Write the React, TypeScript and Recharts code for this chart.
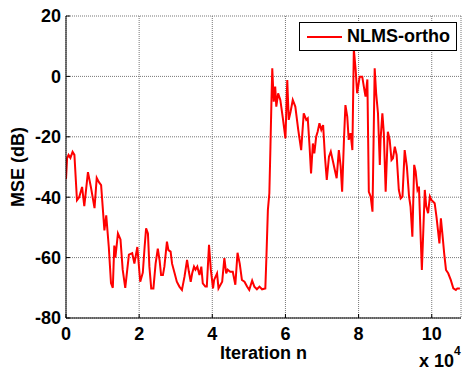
import { LineChart, Line, XAxis, YAxis, CartesianGrid, Legend } from 'recharts';

const FONT = '"Liberation Sans", Arial, Helvetica, sans-serif';

// iteration index in units of 1e4
const iterations = [
  0, 0.03, 0.07, 0.12, 0.18, 0.23, 0.30, 0.36, 0.44, 0.50, 0.60, 0.68, 0.78, 0.84, 0.90, 0.96,
  1.05, 1.10, 1.17, 1.23, 1.28, 1.32, 1.35, 1.42, 1.49, 1.55, 1.62, 1.72, 1.81, 1.87, 1.95,
  2.03, 2.10, 2.15, 2.19, 2.24, 2.28, 2.33, 2.39, 2.45, 2.51, 2.56, 2.60, 2.65, 2.69, 2.76, 2.80,
  2.86, 2.90, 2.97, 3.03, 3.10, 3.17, 3.24, 3.31, 3.36, 3.41, 3.45, 3.50, 3.54, 3.59, 3.65, 3.70,
  3.74, 3.81, 3.85, 3.91, 3.96, 4.02, 4.05, 4.13, 4.17, 4.27, 4.33, 4.38, 4.42, 4.49, 4.56, 4.63,
  4.69, 4.75, 4.81, 4.88, 4.95, 5.01, 5.09, 5.15, 5.22, 5.29, 5.36, 5.45, 5.48, 5.52, 5.56, 5.59,
  5.62, 5.64, 5.68, 5.72, 5.75, 5.80, 5.86, 5.93, 6.00, 6.05, 6.09, 6.14, 6.20, 6.27, 6.35, 6.43,
  6.50, 6.57, 6.61, 6.66, 6.70, 6.75, 6.79, 6.84, 6.88, 6.93, 6.98, 7.03, 7.08, 7.13, 7.19, 7.24,
  7.30, 7.35, 7.40, 7.46, 7.51, 7.55, 7.60, 7.64, 7.69, 7.73, 7.78, 7.83, 7.87, 7.92, 7.96, 8.03,
  8.10, 8.15, 8.19, 8.24, 8.28, 8.33, 8.38, 8.44, 8.48, 8.53, 8.58, 8.60, 8.65, 8.69, 8.74, 8.80,
  8.85, 8.90, 8.94, 8.99, 9.04, 9.10, 9.15, 9.20, 9.26, 9.32, 9.38, 9.42, 9.47, 9.52, 9.56, 9.61,
  9.65, 9.70, 9.73, 9.76, 9.81, 9.85, 9.90, 9.95, 9.99, 10.04, 10.08, 10.13, 10.17, 10.21, 10.25,
  10.29, 10.34, 10.39, 10.45, 10.52, 10.59, 10.66, 10.70, 10.77,
];

// MSE in dB
const mse = [
  -34, -27, -26, -27, -25, -26, -41, -40, -36.6, -43, -31.7, -36.6, -43.6, -33.6, -35, -36,
  -51, -46, -56.5, -68.4, -70, -56, -60, -52, -54, -64, -70, -59, -58.5, -62, -56.5,
  -68, -65, -56.4, -50.3, -52, -63, -70.2, -70.2, -62, -57, -61, -65.8, -65.8, -63, -54.7, -57.5,
  -58, -62, -65.2, -68, -69.6, -70.7, -66.3, -60.8, -64.7, -68, -65.2, -63, -64, -63, -65.8, -63,
  -68.5, -69.6, -69.6, -55.8, -64, -70.2, -67.4, -65.2, -70.2, -68, -60.2, -65.2, -64, -64.7, -64.7, -69,
  -58.4, -62, -67.4, -68, -69.6, -70.7, -67.6, -69.6, -70.5, -69.6, -70.5, -70.2, -59.7, -44.2, -38.7, -23.3,
  -6.7, 2.7, -8.4, -3.4, -10, -5.6, -7.8, -13.9, -20.5, -1.2, -14.4, -11.7, -7.8, -10, -17.7, -24.4,
  -12.2, -14.4, -13.9, -23.3, -32.1, -22.2, -25.5, -20, -18.3, -15.5, -17.7, -16.1, -26.6, -34.3, -26.6, -24.9,
  -28.2, -31, -33.7, -24.4, -29.9, -38.2, -21, -9.5, -13.3, -21, -18.8, -24.4, 9, 2.1, -5.6, -0.1,
  -0.1, -3.9, -6.7, -1, -38.2, -39.8, -44.8, 2.7, -5.6, -12.2, -29.3, -21, -12.2, -18.8, -38.2, -18.3,
  -21, -27.7, -27.1, -23.3, -26, -37.6, -40.4, -39.8, -24.4, -29.9, -39.8, -43.1, -53.1, -29.3, -31.5, -37.6,
  -36.5, -54.2, -64.1, -54.2, -37.6, -43.1, -45.3, -39.8, -40.9, -41.5, -42, -46.5, -50.9, -55.3, -47,
  -52, -58.6, -64.1, -65.2, -67.4, -70.2, -70.7, -70.2, -70.2,
];

const xTicks = [0, 2, 4, 6, 8, 10];
const yTicks = [-80, -60, -40, -20, 0, 20];

const data = iterations.map((n, i) => ({ n, mse: mse[i] }));

const tickStyle = { fill: '#000', fontSize: 18, fontWeight: 'bold', fontFamily: FONT };

const XLabel = ({ viewBox }: any) => {
  const cx = viewBox.x + viewBox.width / 2;
  const y = viewBox.y;
  return (
    <g fontFamily={FONT} fontWeight="bold" fill="#000">
      <text x={cx} y={y + 41} textAnchor="middle" fontSize={18}>Iteration n</text>
      <text x={viewBox.x + viewBox.width - 42} y={y + 49} fontSize={18}>x 10</text>
      <text x={viewBox.x + viewBox.width - 7} y={y + 37} fontSize={12}>4</text>
    </g>
  );
};

const YLabel = ({ viewBox }: any) => {
  const x = viewBox.x + 24;
  const y = viewBox.y + viewBox.height / 2;
  return (
    <text x={x} y={y} transform={`rotate(-90 ${x} ${y})`} textAnchor="middle"
      fontFamily={FONT} fontWeight="bold" fontSize={18} fill="#000">MSE (dB)</text>
  );
};

const LegendBox = () => (
  <div style={{
    boxSizing: 'border-box', width: 158, height: 29, border: '1px solid #000', background: '#fff',
    display: 'flex', alignItems: 'center', fontFamily: FONT, fontWeight: 'bold', fontSize: 18, color: '#000',
  }}>
    <svg width={47} height={10}><line x1={7} x2={42} y1={5} y2={5} stroke="#ff0000" strokeWidth={2} /></svg>
    <span>NLMS-ortho</span>
  </div>
);

const noTick = () => <g />;

export default function App() {
  return (
    <div style={{ position: 'absolute', left: 0, top: 0, background: '#fff' }}>
      <LineChart width={462} height={374} data={data} margin={{ top: 16, right: 1, bottom: 0, left: 0 }}>
        <CartesianGrid xAxisId="main" yAxisId="main" stroke="#777" strokeDasharray="1 1" />
        <XAxis xAxisId="main" dataKey="n" type="number" domain={[0, 10.8]} ticks={xTicks} allowDataOverflow
          height={56} tick={tickStyle} tickSize={-4} tickMargin={13} axisLine={{ stroke: '#000' }}
          tickLine={{ stroke: '#000' }} interval={0} label={<XLabel />} />
        <XAxis xAxisId="top" orientation="top" dataKey="n" type="number" domain={[0, 10.8]} ticks={xTicks}
          allowDataOverflow height={0} tick={noTick} tickSize={-4} axisLine={{ stroke: '#000' }}
          tickLine={{ stroke: '#000' }} />
        <YAxis yAxisId="main" type="number" domain={[-80, 20]} ticks={yTicks} allowDataOverflow width={66}
          tick={tickStyle} tickSize={-4} tickMargin={9} axisLine={{ stroke: '#000' }}
          tickLine={{ stroke: '#000' }} interval={0} label={<YLabel />} />
        <YAxis yAxisId="right" orientation="right" type="number" domain={[-80, 20]} ticks={yTicks}
          allowDataOverflow width={0} tick={noTick} tickSize={-4} axisLine={{ stroke: '#000' }}
          tickLine={{ stroke: '#000' }} />
        <Legend layout="horizontal" verticalAlign="middle" align="center" content={<LegendBox />}
          wrapperStyle={{ left: 299, top: 22, width: 158, height: 29 }} />
        <Line xAxisId="main" yAxisId="main" type="linear" dataKey="mse" name="NLMS-ortho" stroke="#ff0000"
          strokeWidth={2} dot={false} activeDot={false} isAnimationActive={false} />
      </LineChart>
    </div>
  );
}
